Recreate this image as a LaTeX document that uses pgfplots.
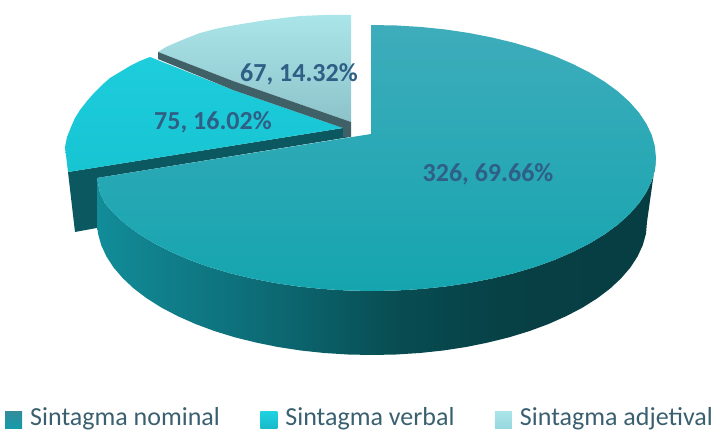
\documentclass[border=0pt]{standalone}
\usepackage{pgfplots}
\pgfplotsset{compat=1.18}
\usepackage{fontspec}
\setmainfont{Carlito}
\definecolor{lab}{RGB}{47,95,133}
\definecolor{legtxt}{RGB}{58,96,112}
\definecolor{bigA}{RGB}{62,172,187}
\definecolor{bigB}{RGB}{30,169,183}
\definecolor{bigC}{RGB}{21,165,175}
\definecolor{grA}{RGB}{30,205,220}
\definecolor{grB}{RGB}{38,214,228}
\definecolor{grC}{RGB}{22,196,210}
\definecolor{liA}{RGB}{170,229,233}
\definecolor{liB}{RGB}{160,218,224}
\definecolor{liC}{RGB}{140,195,202}
\pgfdeclarehorizontalshading{bigside}{100bp}{
  rgb(0bp)=(0.07,0.55,0.60);
  rgb(25bp)=(0.07,0.55,0.60);
  rgb(40bp)=(0.05,0.42,0.46);
  rgb(52bp)=(0.03,0.30,0.32);
  rgb(62bp)=(0.027,0.25,0.27);
  rgb(75bp)=(0.024,0.24,0.26);
  rgb(100bp)=(0.024,0.24,0.26)}
\begin{document}
\begin{tikzpicture}
\useasboundingbox (0,0) rectangle (715pt,433pt);
\begin{axis}[
  at={(0,0)},anchor=south west,
  scale only axis,width=715pt,height=433pt,
  xmin=0,xmax=715,ymin=0,ymax=433,y dir=reverse,
  hide axis,clip=false,
  legend columns=3,
  legend style={at={(axis cs:5,429)},anchor=south west,draw=none,fill=none,
    font=\fontsize{26}{26}\selectfont\color{legtxt},
    /tikz/every even column/.append style={column sep=39.5pt},
    /tikz/every odd column/.append style={column sep=7pt},
    inner sep=0pt,nodes={inner sep=1pt}},
  legend image code/.code={\path[#1] (0pt,-12pt) rectangle (17pt,5pt);},
]
% light slice
\addplot[draw=none,top color=liA,middle color=liB,bottom color=liC,forget plot] coordinates {
 (351,15)(325,15)(300,16)(283,18)(267,20)(248,23)(230,26)(215,29)(200,33)(187,38)(175,43)(166,47)(158,52)(233,81)(351,122)} -- cycle;
% verbal slice side
\addplot[draw=none,fill={rgb,255:red,12;green,88;blue,96},forget plot] coordinates {
 (343,128)(68,172)(75,232)(102,227)(97,178)(350,137)} -- cycle;
% verbal slice top
\addplot[draw=none,top color=grA,middle color=grB,bottom color=grC,forget plot] coordinates {
 (343,128)(68,172)(65,147)(67,137)(71,127)(75,118)(80,110)(87,101)(94,93)(102,85)(110,78)(120,72)(130,66)(140,61)(150,57)(233,90)} -- cycle;
% light slice side
\addplot[draw=none,fill={rgb,255:red,62;green,96;blue,102},forget plot] coordinates {
 (158,52)(233,81)(351,122)(351,137)(343,137)(343,128)(233,90)(158,59)} -- cycle;
% big slice side
\addplot[draw=none,shading=bigside,forget plot] coordinates {
 (656,158)(654.9,169.6)(651.7,181.1)(646.3,192.4)(638.9,203.5)(629.4,214.2)(618,224.5)(604.6,234.3)(589.5,243.5)(572.8,252)(554.6,259.9)(534.9,267)(514,273.2)(492,278.5)(469.1,283)(445.5,286.5)(421.3,289)(396.8,290.5)(372,291)(347.2,290.5)(322.7,289)(298.5,286.5)(274.9,283)(252,278.5)(230,273.2)(209.1,267)(189.4,259.9)(171.2,252)(154.5,243.5)(139.4,234.3)(126,224.5)(114.6,214.2)(105.1,203.5)(100,193)(97,178)
 (97,222)(98,233.6)(101.2,245.1)(106.4,256.4)(113.6,267.5)(122.8,278.2)(133.8,288.5)(146.7,298.3)(161.3,307.5)(177.5,316)(195.2,323.9)(214.3,331)(234.5,337.2)(255.8,342.5)(277.9,347)(300.8,350.5)(324.2,353)(348,354.5)(372,355)(396,354.5)(419.8,353)(443.2,350.5)(466.1,347)(488.2,342.5)(509.5,337.2)(529.7,331)(548.8,323.9)(566.5,316)(582.7,307.5)(597.3,298.3)(610.2,288.5)(621.2,278.2)(630.4,267.5)(637.6,256.4)(642.8,245.1)(646,233.6)(647,222)} -- cycle;
% big slice top
\addplot[draw=none,top color=bigA,middle color=bigB,bottom color=bigC,forget plot] coordinates {
 (371,134)(371,25)(396.8,25.5)(421.3,27)(445.5,29.5)(469.1,33)(492,37.5)(514,42.8)(534.9,49)(554.6,56.1)(572.8,64)(589.5,72.5)(604.6,81.7)(618,91.5)(629.4,101.8)(638.9,112.5)(646.3,123.6)(651.7,134.9)(654.9,146.4)(656,158)(654.9,169.6)(651.7,181.1)(646.3,192.4)(638.9,203.5)(629.4,214.2)(618,224.5)(604.6,234.3)(589.5,243.5)(572.8,252)(554.6,259.9)(534.9,267)(514,273.2)(492,278.5)(469.1,283)(445.5,286.5)(421.3,289)(396.8,290.5)(372,291)(347.2,290.5)(322.7,289)(298.5,286.5)(274.9,283)(252,278.5)(230,273.2)(209.1,267)(189.4,259.9)(171.2,252)(154.5,243.5)(139.4,234.3)(126,224.5)(114.6,214.2)(105.1,203.5)(100,193)(97,178)} -- cycle;
\addlegendimage{draw=none,top color={rgb,255:red,50;green,140;blue,155},bottom color={rgb,255:red,20;green,155;blue,170}}
\addlegendentry{Sintagma nominal}
\addlegendimage{draw=none,top color={rgb,255:red,30;green,210;blue,225},bottom color={rgb,255:red,25;green,185;blue,200}}
\addlegendentry{Sintagma verbal}
\addlegendimage{draw=none,top color={rgb,255:red,170;green,228;blue,232},bottom color={rgb,255:red,150;green,215;blue,222}}
\addlegendentry{Sintagma adjetival}
\node[font=\fontsize{26}{26}\selectfont\bfseries,text=lab] at (axis cs:299,74) {67, 14.32\%};
\node[font=\fontsize{26}{26}\selectfont\bfseries,text=lab] at (axis cs:213,122) {75, 16.02\%};
\node[font=\fontsize{26}{26}\selectfont\bfseries,text=lab] at (axis cs:488,174) {326, 69.66\%};
\end{axis}
\end{tikzpicture}
\end{document}
